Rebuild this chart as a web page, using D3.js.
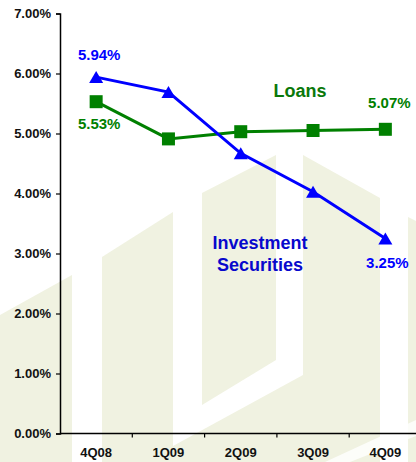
<!DOCTYPE html>
<html>
<head>
<meta charset="utf-8">
<script src="https://cdn.jsdelivr.net/npm/d3@7"></script>
<style>
  html, body { margin: 0; padding: 0; background: #fff; }
  svg { display: block; font-family: Arial, "Liberation Sans", sans-serif; }
</style>
</head>
<body>
<svg id="chart" width="416" height="462"></svg>
<script>
// Quarterly yields
const quarters = ["4Q08", "1Q09", "2Q09", "3Q09", "4Q09"];
const investmentYield = [5.94, 5.69, 4.67, 4.03, 3.25];
const loanYield = [5.53, 4.91, 5.03, 5.05, 5.07];
const yTicks = [0, 1, 2, 3, 4, 5, 6, 7];

const svg = d3.select("#chart");
const W = 416, H = 462;

// faint background emblem
const emblem = svg.append("g").attr("fill", "#f0f2e1");
const emblemShapes = [
  [[0, 315], [72, 275], [72, 462], [0, 462]],
  [[102, 257], [173, 212], [173, 462], [102, 462]],
  [[202, 193], [276, 155], [276, 360], [202, 405]],
  [[173, 446], [303, 375], [303, 462], [173, 462]],
  [[303, 155], [380, 198], [380, 462], [303, 462]],
  [[408, 217], [416, 221], [416, 462], [408, 462]]
];
emblemShapes.forEach(p => emblem.append("polygon").attr("points", p.map(d => d.join(",")).join(" ")));
// light cut across the lower right
svg.append("polygon")
  .attr("points", "325,462 416,420 416,436 350,462")
  .attr("fill", "#fff").attr("opacity", 0.8);

const x = d3.scaleBand().domain(quarters).range([60, 421.5]);
const y = d3.scaleLinear().domain([0, 7]).range([433.5, 13.5]);
const cx = q => x(q) + x.bandwidth() / 2;

// axes
const yAxis = svg.append("g")
  .attr("transform", "translate(60,0)")
  .call(d3.axisLeft(y).tickValues(yTicks).tickFormat(d => d.toFixed(2) + "%").tickSize(4).tickPadding(5));
yAxis.select(".domain").attr("stroke", "#000").attr("stroke-width", 1.5);
yAxis.selectAll(".tick line").attr("stroke", "#000").attr("stroke-width", 1.2);
yAxis.selectAll("text").attr("font-size", 13).attr("font-weight", "bold").attr("fill", "#111")
  .attr("font-family", "Arial, 'Liberation Sans', sans-serif");

const xAxisG = svg.append("g").attr("transform", "translate(0,433.5)");
xAxisG.append("line").attr("x1", 60).attr("x2", W).attr("stroke", "#000").attr("stroke-width", 1.5);
xAxisG.selectAll("line.tk").data(quarters.slice(1)).enter().append("line")
  .attr("class", "tk").attr("x1", d => x(d)).attr("x2", d => x(d)).attr("y1", 0).attr("y2", 4)
  .attr("stroke", "#000").attr("stroke-width", 1.2);
xAxisG.selectAll("text").data(quarters).enter().append("text")
  .attr("x", d => cx(d)).attr("y", 23.5).attr("text-anchor", "middle")
  .attr("font-size", 13).attr("font-weight", "bold").attr("fill", "#111").text(d => d);

// series
const line = d3.line().x((d, i) => cx(quarters[i])).y(d => y(d));
const blue = "#0000ff", green = "#008000";

svg.append("path").datum(loanYield).attr("d", line)
  .attr("fill", "none").attr("stroke", green).attr("stroke-width", 3);
svg.append("path").datum(investmentYield).attr("d", line)
  .attr("fill", "none").attr("stroke", blue).attr("stroke-width", 3);

svg.selectAll("rect.loan").data(loanYield).enter().append("rect")
  .attr("class", "loan")
  .attr("x", (d, i) => cx(quarters[i]) - 6.5).attr("y", d => y(d) - 6.5)
  .attr("width", 13).attr("height", 13).attr("fill", green);

const tri = (px, py) => `M${px},${py - 6}L${px + 7},${py + 6}L${px - 7},${py + 6}Z`;
svg.selectAll("path.inv").data(investmentYield).enter().append("path")
  .attr("class", "inv")
  .attr("d", (d, i) => tri(cx(quarters[i]), y(d))).attr("fill", blue);

// labels
const label = (tx, ty, txt, color, size) => svg.append("text")
  .attr("x", tx).attr("y", ty).attr("text-anchor", "middle")
  .attr("font-size", size).attr("font-weight", "bold").attr("fill", color).text(txt);

const fmt = v => v.toFixed(2) + "%";
label(cx(quarters[0]) + 3, y(investmentYield[0]) - 17, fmt(investmentYield[0]), blue, 15);
label(cx(quarters[0]) + 3, y(loanYield[0]) + 27, fmt(loanYield[0]), green, 15);
label(cx(quarters[4]) + 4, y(loanYield[4]) - 21, fmt(loanYield[4]), green, 15);
label(cx(quarters[4]) + 2, y(investmentYield[4]) + 29.5, fmt(investmentYield[4]), blue, 15);

label(300, 97, "Loans", "#0a780a", 18);
label(260, 249, "Investment", "#0808cc", 18);
label(260, 271, "Securities", "#0808cc", 18);
</script>
</body>
</html>
